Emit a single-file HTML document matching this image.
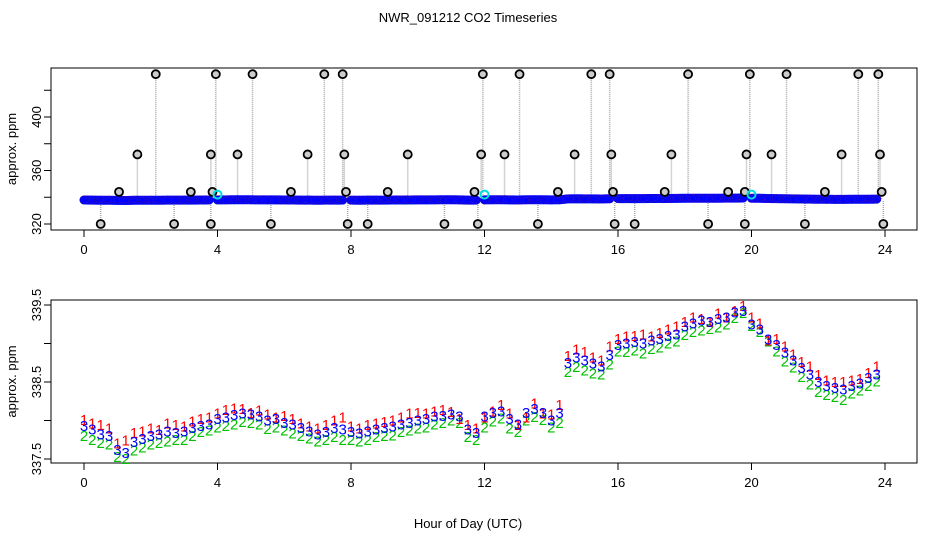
<!DOCTYPE html>
<html><head><meta charset="utf-8">
<style>
html,body{margin:0;padding:0;background:#fff;}
svg{display:block;font-family:"Liberation Sans",sans-serif;}
</style></head>
<body>
<svg id="chart" width="936" height="540" viewBox="0 0 936 540" xmlns="http://www.w3.org/2000/svg">
<rect width="936" height="540" fill="#fff"/>
<text x="468" y="22" text-anchor="middle" font-size="13">NWR_091212  CO2 Timeseries</text>
<text x="468" y="528" text-anchor="middle" font-size="13">Hour of Day (UTC)</text>
<g id="topPanel"></g>
<g id="botPanel"></g>
</svg>
<script>
// Time axis (hours)
const hourTicks = [0,4,8,12,16,20,24];
// Bottom panel series, sampled every 0.25 h from 0 to 23.75
const series3 = [337.93,337.88,337.82,337.80,337.62,337.58,337.72,337.76,337.80,337.82,337.86,337.84,337.86,337.90,337.93,337.95,338.02,338.04,338.07,338.09,338.08,338.05,338.00,338.02,337.97,337.95,337.90,337.86,337.82,337.85,337.90,337.88,337.85,337.83,337.86,337.88,337.90,337.92,337.95,337.97,338.00,338.02,338.05,338.06,338.08,338.05,337.88,337.84,338.05,338.10,338.12,338.02,337.95,338.10,338.15,338.10,338.00,338.10,338.75,338.82,338.78,338.74,338.70,338.85,338.98,339.00,339.02,339.00,339.04,339.06,339.10,339.12,339.22,339.26,339.30,339.28,339.32,339.34,339.40,339.42,339.25,339.18,339.05,338.98,338.88,338.78,338.68,338.60,338.50,338.45,338.42,338.40,338.45,338.48,338.55,338.60];
const series1 = [337.97,337.92,337.90,337.86,337.66,337.70,337.80,337.82,337.86,337.84,337.92,337.90,337.88,337.95,337.98,338.00,338.05,338.10,338.12,338.11,338.06,338.09,338.04,338.00,338.02,337.98,337.92,337.88,337.86,337.90,337.96,338.00,337.88,337.86,337.90,337.92,337.94,337.96,338.00,338.05,338.06,338.05,338.08,338.10,338.07,337.98,337.90,337.86,338.00,338.08,338.16,338.05,337.90,338.00,338.18,338.05,338.04,338.16,338.80,338.88,338.85,338.78,338.74,338.92,339.02,339.05,339.06,339.08,339.05,339.10,339.14,339.18,339.24,339.30,339.28,339.24,339.35,339.30,339.38,339.45,339.30,339.22,339.00,339.02,338.92,338.82,338.72,338.66,338.55,338.48,338.46,338.46,338.48,338.50,338.58,338.66];
const series2 = [337.85,337.80,337.76,337.74,337.58,337.55,337.66,337.70,337.74,337.76,337.78,337.80,337.80,337.85,337.90,337.92,337.96,337.98,338.00,338.03,338.02,338.00,337.94,337.96,337.92,337.88,337.85,337.82,337.78,337.80,337.84,337.80,337.80,337.78,337.80,337.84,337.85,337.86,337.90,337.92,337.95,337.96,338.00,338.02,338.05,338.02,337.84,337.80,337.96,338.04,338.08,337.95,337.90,338.05,338.10,338.06,337.96,338.02,338.68,338.75,338.70,338.66,338.65,338.78,338.95,338.94,338.96,338.92,338.98,339.00,339.05,339.08,339.16,339.20,339.22,339.24,339.26,339.30,339.38,339.45,339.28,339.20,339.08,338.95,338.82,338.74,338.62,338.52,338.42,338.38,338.36,338.32,338.40,338.44,338.50,338.56];
// Top panel outliers: hours and values
const spikeHours = [2.15,3.95,5.05,7.2,7.75,11.95,13.05,15.2,15.75,18.1,19.95,21.05,23.2,23.8,
 1.6,3.8,4.6,6.7,7.8,9.7,11.9,12.6,14.7,15.8,17.6,19.85,20.6,22.7,23.85,
 1.05,3.2,3.85,6.2,7.85,9.1,11.7,14.2,15.85,17.4,19.3,19.8,22.2,23.9,
 0.5,2.7,3.8,5.6,7.9,8.5,10.8,11.8,13.6,15.9,16.5,18.7,19.8,21.6,23.95];
const spikeValues = [432,432,432,432,432,432,432,432,432,432,432,432,432,432,
 372,372,372,372,372,372,372,372,372,372,372,372,372,372,372,
 344,344,344,344,344,344,344,344,344,344,344,344,344,344,
 320,320,320,320,320,320,320,320,320,320,320,320,320,320,320];
const cyanHours = [4.0,12.0,20.0];
const cyanValues = [342,342,342];
const topTicks = [320,340,360,380,400,420];
const topTickLabels = ["320","","360","","400",""];
const botTicks = [337.5,338,338.5,339,339.5];
const botTickLabels = ["337.5","","338.5","","339.5"];

const NS="http://www.w3.org/2000/svg";
function mk(parent,tag,attrs,text){const e=document.createElementNS(NS,tag);for(const k in attrs)e.setAttribute(k,attrs[k]);if(text!==undefined)e.textContent=text;parent.appendChild(e);return e;}
const xL=51,xR=917;
const xs=h=>84+h*(885-84)/24;
const yTop=v=>224-(v-320)*(224-117)/80;
const yBot=v=>459-(v-337.5)*(459-305)/2;

function frame(g,y0,y1,ticks,labels,ysc,prefix){
  const r=mk(g,'rect',{x:xL,y:y0,width:xR-xL,height:y1-y0,fill:'none',stroke:'#000','stroke-width':1});
  
  
  hourTicks.forEach(h=>{
    const l=mk(g,'line',{x1:xs(h),x2:xs(h),y1:y1,y2:y1+7,stroke:'#000'});
    
    
    const t=mk(g,'text',{x:xs(h),y:y1+24,'text-anchor':'middle','font-size':13},String(h));
    
    
  });
  ticks.forEach((v,i)=>{
    const y=ysc(v);
    const l=mk(g,'line',{x1:xL-7,x2:xL,y1:y,y2:y,stroke:'#000'});
    
    
    if(labels[i]){
      const t=mk(g,'text',{x:0,y:0,'text-anchor':'middle','font-size':13,transform:`translate(41,${y}) rotate(-90)`},labels[i]);
      
      
    }
  });
  const yt=mk(g,'text',{x:0,y:0,'text-anchor':'middle','font-size':13,transform:`translate(16,${(y0+y1)/2}) rotate(-90)`},'approx. ppm');
  
  
}

// TOP PANEL
const topG=document.getElementById('topPanel');
frame(topG,68,230,topTicks,topTickLabels,yTop,'top');
spikeHours.forEach((h,i)=>{
  const l=mk(topG,'line',{x1:xs(h),x2:xs(h),y1:yTop(spikeValues[i]),y2:yTop(338),stroke:'#aaa','stroke-dasharray':'1,1','stroke-width':1.5});
  
  
});
const segBounds=[[0,15],[16,31],[32,47],[48,63],[64,79],[80,95]];
segBounds.forEach(([a,b])=>{
  let d='';
  for(let i=a;i<=b;i++){d+=(i===a?'M':'L')+xs(i*0.25).toFixed(1)+','+yTop(series3[i]).toFixed(1);}
  const p=mk(topG,'path',{d:d,fill:'none',stroke:'#0000ff','stroke-width':9,'stroke-linecap':'round','stroke-linejoin':'round'});
  
  
});
const cols=[['#00c000',series2],['#ff0000',series1],['#0000ff',series3]];
cols.forEach(([c,arr])=>{
  arr.forEach((v,i)=>{
    const p=mk(topG,'circle',{cx:xs(i*0.25),cy:yTop(v),r:3.5,fill:'none',stroke:c,'stroke-width':1.6});
    
    
  });
});
spikeHours.forEach((h,i)=>{
  const p=mk(topG,'circle',{cx:xs(h),cy:yTop(spikeValues[i]),r:4,fill:'#ccc',stroke:'#000','stroke-width':1.8});
  
  
});
cyanHours.forEach((h,i)=>{
  const p=mk(topG,'circle',{cx:xs(h),cy:yTop(cyanValues[i]),r:4,fill:'none',stroke:'#00e0e0','stroke-width':2});
  
  
});

// BOTTOM PANEL
const botG=document.getElementById('botPanel');
frame(botG,300,463,botTicks,botTickLabels,yBot,'bottom');
[['#00c000',series2,'2',4],['#ff0000',series1,'1',-3],['#0000ff',series3,'3',0]].forEach(([c,arr,ch,dy])=>{
  arr.forEach((v,i)=>{
    const t=mk(botG,'text',{x:xs(i*0.25),y:yBot(v)+5+dy,'text-anchor':'middle','font-size':15,fill:c},ch);
    
    
  });
});
</script>
</body></html>
